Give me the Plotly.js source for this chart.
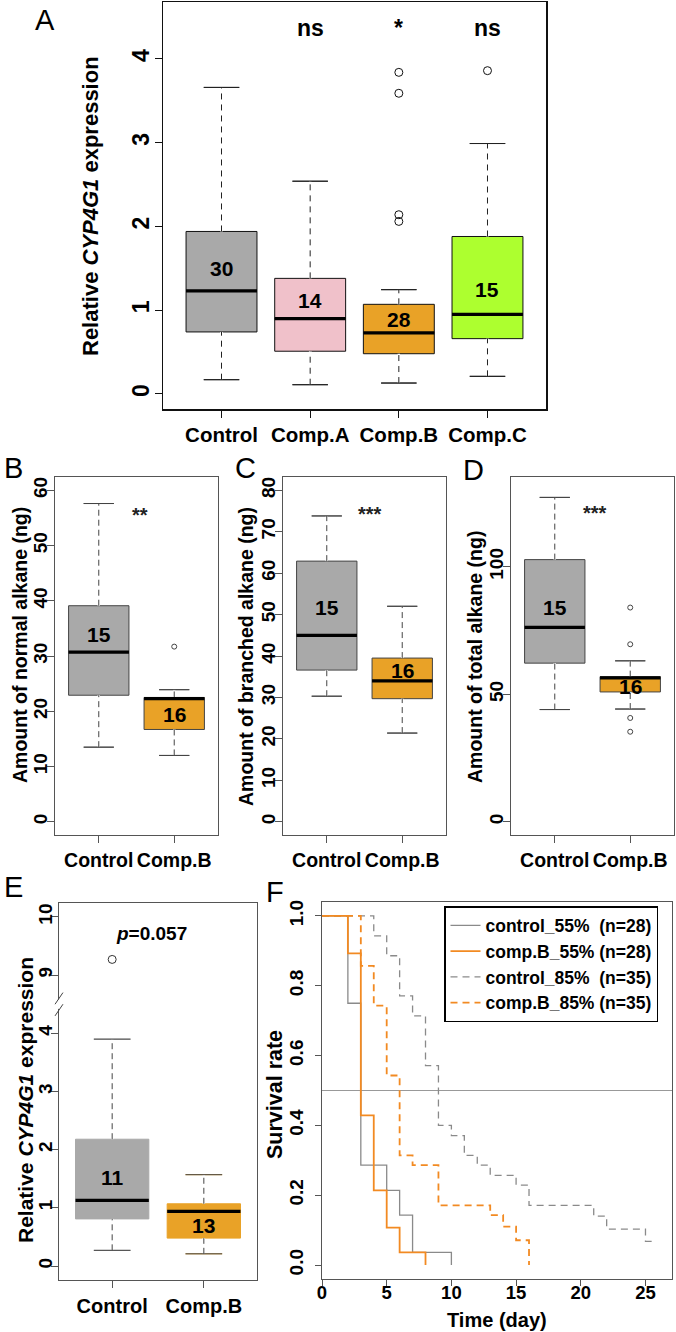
<!DOCTYPE html>
<html><head><meta charset="utf-8">
<script src="https://cdn.plot.ly/plotly-3.0.1.min.js"></script>
<style>html,body{margin:0;padding:0;background:#fff}#chart{width:676px;height:1332px}</style>
</head><body><div id="chart"></div>
<script>
// ---------------- DATA ----------------
// Panel A: relative CYP4G1 expression
const aGroups = ['Control', 'Comp.A', 'Comp.B', 'Comp.C'];
const aQ1 = [0.74, 0.51, 0.48, 0.66];
const aMedian = [1.23, 0.90, 0.73, 0.95];
const aQ3 = [1.94, 1.38, 1.07, 1.88];
const aLowWhisker = [0.17, 0.11, 0.13, 0.21];
const aHighWhisker = [3.66, 2.54, 1.245, 2.99];
const aN = ['30', '14', '28', '15'];
const aSignif = ['', 'ns', '*', 'ns'];
const aOutlierGroup = [3, 3, 3, 3, 4];
const aOutlierValue = [3.84, 3.59, 2.14, 2.06, 3.86];

// Panel B: normal alkane (ng)
const bGroups = ['Control', 'Comp.B'];
const bQ1 = [22.9, 16.7];
const bMedian = [30.7, 22.3];
const bQ3 = [39.1, 22.5];
const bLowWhisker = [13.5, 12.0];
const bHighWhisker = [57.6, 23.9];
const bN = ['15', '16'];
const bSignif = '**';
const bOutlierGroup = [2];
const bOutlierValue = [31.7];

// Panel C: branched alkane (ng)
const cGroups = ['Control', 'Comp.B'];
const cQ1 = [36.6, 29.7];
const cMedian = [45.0, 34.0];
const cQ3 = [62.9, 39.5];
const cLowWhisker = [30.3, 21.4];
const cHighWhisker = [73.8, 52.0];
const cN = ['15', '16'];
const cSignif = '***';

// Panel D: total alkane (ng)
const dGroups = ['Control', 'Comp.B'];
const dQ1 = [62.2, 50.9];
const dMedian = [76.2, 56.4];
const dQ3 = [102.8, 56.9];
const dLowWhisker = [44.0, 44.2];
const dHighWhisker = [127.2, 63.1];
const dN = ['15', '16'];
const dSignif = '***';
const dOutlierGroup = [2, 2, 2, 2];
const dOutlierValue = [84.0, 69.6, 40.7, 35.3];

// Panel E: relative CYP4G1 expression (broken axis 4 -> 9)
const eGroups = ['Control', 'Comp.B'];
const eQ1 = [0.81, 0.48];
const eMedian = [1.13, 0.94];
const eQ3 = [2.18, 1.07];
const eLowWhisker = [0.27, 0.21];
const eHighWhisker = [3.90, 1.57];
const eN = ['11', '13'];
const ePValue = '<i>p</i>=0.057';
const eOutlierGroup = [1];
const eOutlierValue = [9.27];
const eTickValues = [0, 1, 2, 3, 4, 9, 10];

// Panel F: survival curves
const fNames = ['control_55%\u00a0\u00a0(n=28)', 'comp.B_55% (n=28)', 'control_85%\u00a0\u00a0(n=35)', 'comp.B_85% (n=35)'];
const fCtrl55Time = [0, 2, 3, 5, 6, 7, 10];
const fCtrl55Surv = [1, 0.75, 0.286, 0.214, 0.143, 0.036, 0];
const fCompB55Time = [0, 2, 3, 4, 5, 6, 8];
const fCompB55Surv = [1, 0.893, 0.429, 0.214, 0.107, 0.036, 0];
const fCtrl85Time = [0, 4, 5, 6, 7, 8, 9, 10, 11, 12, 13, 15, 16, 21, 22, 25, 25.75];
const fCtrl85Surv = [1, 0.943, 0.886, 0.771, 0.714, 0.571, 0.400, 0.371, 0.314, 0.286, 0.257, 0.229, 0.171, 0.140, 0.103, 0.068, 0.068];
const fCompB85Time = [0, 3, 4, 5, 6, 7, 9, 13, 14, 15, 16];
const fCompB85Surv = [1, 0.857, 0.743, 0.543, 0.314, 0.286, 0.171, 0.143, 0.110, 0.071, 0];
const fXTicks = [0, 5, 10, 15, 20, 25];
const fYTicks = [0, 0.2, 0.4, 0.6, 0.8, 1.0];

// ---------------- STYLE / LAYOUT ----------------
const W = 676, H = 1332;
const FONT = '"Liberation Sans", Arial, Helvetica, sans-serif';
const GREY = '#a9a9a9', PINK = '#f0c1ca', ORANGE = '#e9a227', GREEN = '#adff2f';
const xd = (a, b) => [a / W, b / W];
const yd = (t, b) => [1 - b / H, 1 - t / H];

const traces = [], annotations = [], shapes = [];
const layout = {
  width: W, height: H, margin: {l: 0, r: 0, t: 0, b: 0},
  paper_bgcolor: '#fff', plot_bgcolor: '#fff',
  font: {family: FONT, color: '#000'},
  showlegend: true,
  legend: {x: 444 / W, y: 1 - 906 / H, xanchor: 'left', yanchor: 'top',
           bgcolor: '#fff', bordercolor: '#000', borderwidth: 1.5,
           font: {family: FONT, size: 17.5, weight: 'bold', color: '#000'},
           itemwidth: 30, tracegroupgap: 0}
};

function axName(k, t) { return k === 1 ? t : t + k; }

function vTitle(text, x, y, size) {
  annotations.push({xref: 'paper', yref: 'paper', x: x / W, y: 1 - y / H, text: text, textangle: -90,
    showarrow: false, xanchor: 'center', yanchor: 'middle', font: {size: size, weight: 'bold', color: '#000'}});
}

function boxPanel(k, labelK, o) {
  const xa = axName(k, 'x'), ya = axName(k, 'y'), yl = 'y' + labelK;
  const tr = o.transform || (v => v);
  o.groups.forEach((g, i) => {
    const p = i + 1;
    traces.push({type: 'box', xaxis: xa, yaxis: ya, x: [p], name: g,
      q1: [tr(o.q1[i])], median: [tr(o.med[i])], q3: [tr(o.q3[i])],
      lowerfence: [tr(o.lo[i])], upperfence: [tr(o.hi[i])],
      width: 0.8, whiskerwidth: 0.5, fillcolor: o.fill[i], boxpoints: false,
      line: {color: o.boxLine || o.fill[i], width: 1}, showlegend: false, hoverinfo: 'skip'});
    // dashed whiskers (cover the solid ones, then dash)
    [[o.q3[i], o.hi[i]], [o.lo[i], o.q1[i]]].forEach(seg => {
      traces.push({type: 'scatter', mode: 'lines', xaxis: xa, yaxis: ya, x: [p, p], y: seg.map(tr),
        line: {color: '#fff', width: 2.5}, showlegend: false, hoverinfo: 'skip'});
      traces.push({type: 'scatter', mode: 'lines', xaxis: xa, yaxis: ya, x: [p, p], y: seg.map(tr),
        line: {color: o.whisker, width: 1, dash: o.dash}, showlegend: false, hoverinfo: 'skip'});
    });
    // staples
    [o.lo[i], o.hi[i]].forEach(v => {
      traces.push({type: 'scatter', mode: 'lines', xaxis: xa, yaxis: ya, x: [p - 0.2, p + 0.2], y: [tr(v), tr(v)],
        line: {color: o.whisker, width: 1}, showlegend: false, hoverinfo: 'skip'});
    });
    // thick median
    traces.push({type: 'scatter', mode: 'lines', xaxis: xa, yaxis: ya, x: [p - 0.4, p + 0.4], y: [tr(o.med[i]), tr(o.med[i])],
      line: {color: '#000', width: 3.2}, showlegend: false, hoverinfo: 'skip'});
    // n label
    annotations.push({xref: xa, yref: ya, x: p, y: tr(o.nY[i]), text: o.n[i], showarrow: false,
      font: {size: o.nSize, weight: 'bold', color: '#000'}});
  });
  if (o.outG) {
    traces.push({type: 'scatter', mode: 'markers', xaxis: xa, yaxis: ya, x: o.outG, y: o.outV.map(tr),
      marker: {symbol: 'circle-open', size: o.outSize, color: o.outColor, line: {width: 1, color: o.outColor}},
      showlegend: false, hoverinfo: 'skip'});
  }
  // empty trace that carries the tick-label axis
  traces.push({type: 'scatter', mode: 'markers', xaxis: xa, yaxis: yl, x: [], y: [], showlegend: false, hoverinfo: 'skip'});

  const axisLine = {showline: true, mirror: true, linecolor: o.frame, linewidth: o.frameW,
    showgrid: false, zeroline: false, fixedrange: true, ticks: 'outside', ticklen: 7, tickwidth: 1, tickcolor: o.frame};
  const xv = o.groups.map((g, i) => i + 1);
  layout[axName(k, 'xaxis')] = Object.assign({}, axisLine, {
    domain: xd(o.px[0], o.px[1]), range: [0.5 - 0.04 * o.groups.length, o.groups.length + 0.5 + 0.04 * o.groups.length],
    anchor: ya, tickvals: xv, ticktext: o.groups, tickangle: 0,
    tickfont: {size: o.xFont, weight: 'bold', color: '#000'}, ticklabelstandoff: o.xStand});
  const yv = o.yTicks.map(tr);
  // frame + tick marks
  layout[axName(k, 'yaxis')] = Object.assign({}, axisLine, {
    domain: yd(o.py[0], o.py[1]), range: o.yRange, anchor: xa, tickvals: yv, showticklabels: false});
  // tick labels, sitting right against the tick marks
  layout['yaxis' + labelK] = {overlaying: ya, anchor: 'free', position: o.px[0] / W, side: 'left',
    range: o.yRange, fixedrange: true, showline: false, showgrid: false, zeroline: false, ticks: '',
    tickvals: yv, ticktext: o.yTicks.map(String), tickangle: -90, ticklabelstandoff: o.yStand,
    tickfont: {size: o.yFont, weight: 'bold', color: '#000'}};
  vTitle(o.title, o.titlePos[0], o.titlePos[1], o.titleSize);
}

boxPanel(1, 7, {groups: aGroups, q1: aQ1, med: aMedian, q3: aQ3, lo: aLowWhisker, hi: aHighWhisker,
  fill: [GREY, PINK, ORANGE, GREEN], boxLine: '#111', whisker: '#222', dash: '6px,5px',
  n: aN, nY: [1.50, 1.11, 0.89, 1.25], nSize: 21, outG: aOutlierGroup, outV: aOutlierValue, outSize: 8, outColor: '#111',
  frame: '#111', frameW: 1.5, px: [163, 546], py: [2, 409], yRange: [-0.18, 4.68], yTicks: [0, 1, 2, 3, 4],
  xFont: 20.5, yFont: 23, xStand: 0, yStand: 9, title: 'Relative <i>CYP4G1</i> expression', titleSize: 22,
  titlePos: [90, 206]});
aSignif.forEach((s, i) => { if (s) annotations.push({xref: 'x', yref: 'y', x: i + 1, y: 4.37, text: s, showarrow: false,
  font: {size: 23, weight: 'bold', color: '#000'}}); });

const bcd = {fill: [GREY, ORANGE], boxLine: '#444', whisker: '#444', dash: '6px,4px', nSize: 21, outSize: 5, outColor: '#444',
  frame: '#555', frameW: 1.3, xFont: 19.5, yFont: 19, xStand: 0, yStand: 4, titleSize: 19.5};
boxPanel(2, 8, Object.assign({}, bcd, {groups: bGroups, q1: bQ1, med: bMedian, q3: bQ3, lo: bLowWhisker, hi: bHighWhisker,
  n: bN, nY: [33.9, 19.4], outG: bOutlierGroup, outV: bOutlierValue, px: [55, 218], py: [477, 835],
  yRange: [-2.4, 62.4], yTicks: [0, 10, 20, 30, 40, 50, 60], title: 'Amount of normal alkane (ng)', titlePos: [20, 645]}));
annotations.push({xref: 'x2', yref: 'y2', x: 1.54, y: 55.6, text: bSignif, showarrow: false, font: {size: 20, weight: 'bold', color: '#222'}});
boxPanel(3, 9, Object.assign({}, bcd, {groups: cGroups, q1: cQ1, med: cMedian, q3: cQ3, lo: cLowWhisker, hi: cHighWhisker,
  n: cN, nY: [51.8, 36.5], px: [283, 446], py: [477, 835],
  yRange: [-3.2, 83.2], yTicks: [0, 10, 20, 30, 40, 50, 60, 70, 80], title: 'Amount of branched alkane (ng)', titlePos: [246, 657]}));
annotations.push({xref: 'x3', yref: 'y3', x: 1.57, y: 74.2, text: cSignif, showarrow: false, font: {size: 20, weight: 'bold', color: '#222'}});
boxPanel(4, 10, Object.assign({}, bcd, {groups: dGroups, q1: dQ1, med: dMedian, q3: dQ3, lo: dLowWhisker, hi: dHighWhisker,
  n: dN, nY: [84.1, 53.1], outG: dOutlierGroup, outV: dOutlierValue, px: [511, 674], py: [477, 835],
  yRange: [-5.2, 135.2], yTicks: [0, 50, 100], title: 'Amount of total alkane (ng)', titlePos: [475, 657]}));
annotations.push({xref: 'x4', yref: 'y4', x: 1.53, y: 121, text: dSignif, showarrow: false, font: {size: 20, weight: 'bold', color: '#222'}});

// Panel E with broken axis: values above the break are shifted down by 4 units
const breakAt = 4.5, breakShift = 4;
const eScale = v => (v > breakAt ? v - breakShift : v);
boxPanel(5, 11, {groups: eGroups, q1: eQ1, med: eMedian, q3: eQ3, lo: eLowWhisker, hi: eHighWhisker,
  transform: eScale, fill: [GREY, ORANGE], whisker: '#444', dash: '6px,4px',
  n: eN, nY: [1.52, 0.69], nSize: 21, outG: eOutlierGroup, outV: eOutlierValue, outSize: 8, outColor: '#333',
  frame: '#555', frameW: 1.3, px: [59, 257], py: [903, 1280], yRange: [-0.24, 6.24], yTicks: eTickValues,
  xFont: 20, yFont: 19, xStand: 1, yStand: 3, title: 'Relative <i>CYP4G1</i> expression', titleSize: 21, titlePos: [25, 1100]});
annotations.push({xref: 'x5', yref: 'y5', x: 1.43, y: eScale(9.72), text: ePValue, showarrow: false, font: {size: 19, weight: 'bold', color: '#000'}});
shapes.push({type: 'rect', xref: 'x5 domain', yref: 'y5', x0: -0.015, x1: 0.015, y0: 4.42, y1: 4.58, line: {width: 0}, fillcolor: '#fff', layer: 'above'});
shapes.push({type: 'line', xref: 'x5 domain', yref: 'y5', x0: -0.02, x1: 0.02, y0: 4.3, y1: 4.5, line: {color: '#444', width: 1}, layer: 'above'});
shapes.push({type: 'line', xref: 'x5 domain', yref: 'y5', x0: -0.02, x1: 0.02, y0: 4.5, y1: 4.7, line: {color: '#444', width: 1}, layer: 'above'});

// Panel F: survival curves
const fSeries = [
  [fCtrl55Time, fCtrl55Surv, '#8a8a8a', 'solid', 1.3],
  [fCompB55Time, fCompB55Surv, '#f28a22', 'solid', 1.8],
  [fCtrl85Time, fCtrl85Surv, '#8a8a8a', '7px,5px', 1.3],
  [fCompB85Time, fCompB85Surv, '#f28a22', '7px,5px', 1.8]
];
fSeries.forEach((s, i) => traces.push({type: 'scatter', mode: 'lines', xaxis: 'x6', yaxis: 'y6',
  x: s[0], y: s[1], name: fNames[i], line: {shape: 'hv', color: s[2], dash: s[3], width: s[4]}, hoverinfo: 'skip'}));
// empty trace carrying the x tick-label axis of panel F
traces.push({type: 'scatter', mode: 'markers', xaxis: 'x12', yaxis: 'y6', x: [], y: [], showlegend: false, hoverinfo: 'skip'});
shapes.push({type: 'line', xref: 'x6 domain', yref: 'y6', x0: 0, x1: 1, y0: 0.5, y1: 0.5, line: {color: '#999', width: 1.2}, layer: 'below'});
const fAxis = {showline: true, mirror: true, linecolor: '#555', linewidth: 1.3, showgrid: false, zeroline: false,
  ticks: 'outside', ticklen: 6, tickwidth: 1, tickcolor: '#555', fixedrange: true};
layout.xaxis6 = Object.assign({}, fAxis, {domain: xd(322, 672), range: [0, 27.05], anchor: 'y6', tickvals: fXTicks,
  showticklabels: false});
layout.xaxis12 = {overlaying: 'x6', anchor: 'free', position: 1 - 1279 / H, side: 'bottom', range: [0, 27.05],
  fixedrange: true, showline: false, showgrid: false, zeroline: false, ticks: '', tickvals: fXTicks, tickangle: 0,
  ticklabelstandoff: 0, tickfont: {size: 18.5, weight: 'bold', color: '#000'}};
layout.yaxis6 = Object.assign({}, fAxis, {domain: yd(902, 1279), range: [-0.04, 1.04], anchor: 'x6', tickvals: fYTicks,
  tickformat: '.1f', tickangle: -90, tickfont: {size: 19, weight: 'bold', color: '#000'}, ticklabelstandoff: 4});
vTitle('Survival rate', 275, 1095, 21.5);
annotations.push({xref: 'paper', yref: 'paper', x: 497 / W, y: 0, text: 'Time (day)', showarrow: false,
  xanchor: 'center', yanchor: 'bottom', borderpad: 0, font: {size: 20, weight: 'bold', color: '#000'}});

// Panel letters
[['A', 45, 20], ['B', 13, 468], ['C', 245, 468], ['D', 473, 470], ['E', 13, 887], ['F', 275, 892]].forEach(l =>
  annotations.push({xref: 'paper', yref: 'paper', x: l[1] / W, y: 1 - l[2] / H, text: l[0], showarrow: false,
    xanchor: 'center', yanchor: 'middle', font: {size: 29, color: '#000'}}));

layout.annotations = annotations;
layout.shapes = shapes;
Plotly.newPlot('chart', traces, layout, {staticPlot: true, displayModeBar: false});
</script></body></html>
